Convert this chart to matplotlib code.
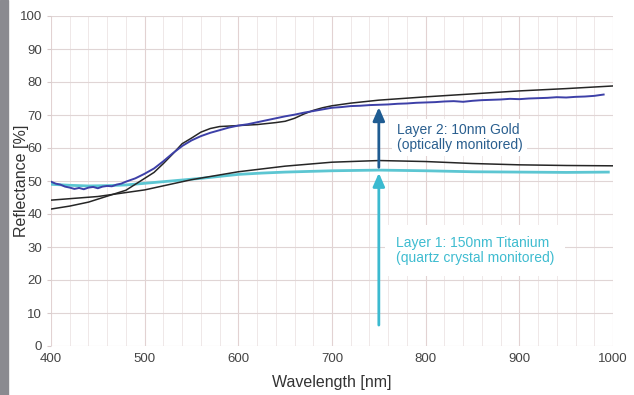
import matplotlib
matplotlib.use("Agg")
import matplotlib.pyplot as plt
from matplotlib.patches import Rectangle

plt.rcParams['font.family'] = ['Liberation Sans', 'DejaVu Sans']

# ===============================
# Data
# ===============================
# measured reflectance after gold layer (optical monitor, noisy)
wl_gold_meas = [400, 405, 410, 415, 420, 425, 430, 435, 440, 445, 450, 455, 460, 465,
                470, 475, 480, 490, 500, 510, 520, 530, 540, 550, 560, 570, 580, 590,
                600, 610, 620, 630, 640, 650, 660, 670, 680, 690, 700, 710, 720, 730,
                740, 750, 760, 770, 780, 790, 800, 810, 820, 830, 840, 850, 860, 870,
                880, 890, 900, 910, 920, 930, 940, 950, 960, 970, 980, 990]
gold_meas = [49.8, 49.2, 48.9, 48.3, 48.0, 47.6, 47.9, 47.5, 48.0, 48.2, 47.8, 48.3, 48.5, 48.4,
             48.9, 49.2, 49.8, 50.8, 52.2, 53.8, 56.0, 58.4, 60.6, 62.3, 63.6, 64.6, 65.4, 66.2,
             66.8, 67.2, 67.8, 68.4, 69.0, 69.6, 70.1, 70.7, 71.2, 71.7, 72.2, 72.4, 72.7, 72.8,
             73.0, 73.1, 73.2, 73.4, 73.5, 73.7, 73.8, 73.9, 74.1, 74.2, 74.0, 74.3, 74.5, 74.6,
             74.7, 74.9, 74.8, 75.0, 75.1, 75.2, 75.4, 75.3, 75.5, 75.6, 75.8, 76.2]

# model curve for gold layer
wl_gold_model = [400, 420, 440, 460, 480, 500, 510, 520, 530, 540, 550, 560, 570, 580,
                 600, 620, 640, 650, 660, 670, 680, 690, 700, 720, 750, 800, 850, 900, 950, 1000]
gold_model = [41.5, 42.4, 43.6, 45.4, 47.2, 50.8, 52.6, 55.3, 58.2, 61.3, 63.0, 64.8, 65.9, 66.5,
              66.8, 67.1, 67.7, 68.1, 69.0, 70.3, 71.4, 72.2, 72.8, 73.6, 74.5, 75.5, 76.4, 77.3, 78.0, 78.8]

# measured reflectance after titanium layer (quartz crystal)
wl_ti_meas = [400, 420, 440, 460, 480, 500, 520, 540, 560, 580, 600, 625, 650, 700,
              750, 800, 850, 900, 950, 995]
ti_meas = [49.0, 48.7, 48.5, 48.6, 48.8, 49.3, 49.8, 50.3, 50.8, 51.4, 52.0, 52.4, 52.7, 53.1,
           53.3, 53.1, 52.8, 52.7, 52.6, 52.7]

# model curve for titanium layer
wl_ti_model = [400, 450, 500, 550, 600, 650, 700, 750, 800, 850, 900, 950, 1000]
ti_model = [44.2, 45.3, 47.3, 50.4, 52.8, 54.5, 55.7, 56.2, 55.9, 55.3, 54.9, 54.7, 54.6]

# arrows at 750 nm
arrow_x = 750
ti_arrow = (5.5, 53.3)
gold_arrow = (53.3, 73.2)

x_ticks = [400, 500, 600, 700, 800, 900, 1000]
y_ticks = list(range(0, 101, 10))

# ===============================
# Plot
# ===============================
fig = plt.figure(figsize=(6.34, 3.95), dpi=100)
fig.patches.append(Rectangle((0, 0), 8 / 634, 1, transform=fig.transFigure,
                             color='#8a8a90', zorder=0))
ax = fig.add_axes([51 / 634, 1 - 346 / 395, 562 / 634, 330 / 395])

ax.set_xlim(400, 1000)
ax.set_ylim(0, 100)
ax.set_xticks(x_ticks)
ax.set_xticks(range(400, 1001, 20), minor=True)
ax.set_yticks(y_ticks)

ax.grid(True, which='major', axis='x', color='#e2d2d2', lw=0.8)
ax.grid(True, which='minor', axis='x', color='#efe8e8', lw=0.7)
ax.grid(True, which='major', axis='y', color='#e0d5d5', lw=0.8)
ax.set_axisbelow(True)
for s in ax.spines.values():
    s.set_visible(False)
ax.tick_params(axis='both', which='major', labelsize=9.5, labelcolor='#444444',
               color='#d8caca', length=3)
ax.tick_params(axis='x', which='major', length=0, pad=5)
ax.tick_params(axis='x', which='minor', length=0)

ax.plot(wl_ti_meas, ti_meas, color='#5cc6d2', lw=2.0, zorder=3)
ax.plot(wl_ti_model, ti_model, color='#262626', lw=1.1, zorder=4)
ax.plot(wl_gold_model, gold_model, color='#262626', lw=1.1, zorder=4)
ax.plot(wl_gold_meas, gold_meas, color='#3d40a8', lw=1.4, zorder=5)

ax.annotate('', xy=(arrow_x, gold_arrow[1]), xytext=(arrow_x, gold_arrow[0]),
            arrowprops=dict(arrowstyle='-|>,head_length=0.8,head_width=0.35',
                            color='#1f5c92', lw=2), zorder=6)
ax.annotate('', xy=(arrow_x, ti_arrow[1]), xytext=(arrow_x, ti_arrow[0]),
            arrowprops=dict(arrowstyle='-|>,head_length=0.8,head_width=0.35',
                            color='#3bbad0', lw=2), zorder=6)

ax.text(769, 63.2, 'Layer 2: 10nm Gold\n(optically monitored)', color='#2a5f8f',
        fontsize=10, va='center', ha='left', linespacing=1.1, zorder=7,
        bbox=dict(facecolor='white', edgecolor='none', pad=3))
ax.text(768, 29.0, 'Layer 1: 150nm Titanium\n(quartz crystal monitored)', color='#3fbcd0',
        fontsize=10, va='center', ha='left', linespacing=1.1, zorder=7,
        bbox=dict(facecolor='white', edgecolor='none', pad=8))

ax.set_xlabel('Wavelength [nm]', fontsize=11.5, color='#333333', labelpad=7)
ax.set_ylabel('Reflectance [%]', fontsize=11.5, color='#333333')
ax.yaxis.set_label_coords(-0.04, 0.5)

fig.savefig('out.png', dpi=100)
